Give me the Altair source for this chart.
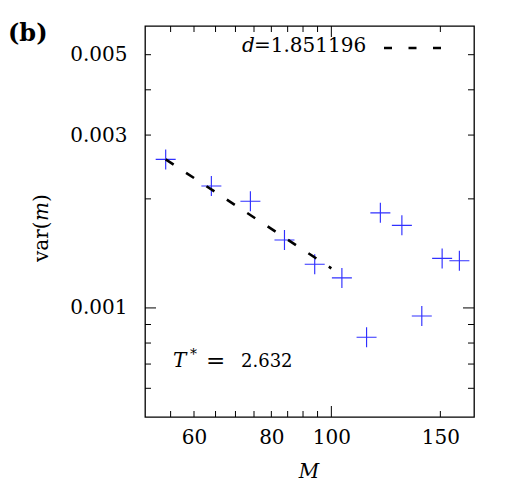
import altair as alt
import pandas as pd

# ---- data ----
M = [54, 64, 74, 84, 94, 104, 114, 120, 130, 140, 151, 161]
VAR = [0.00257, 0.00217, 0.00197, 0.00154, 0.00132, 0.00121,
       0.00083, 0.00183, 0.00169, 0.00095, 0.00137, 0.00135]
FIT_M = [54, 100]
FIT_VAR = [0.00257, 0.001286]
X_TICK_LABELS = [60, 80, 100, 150]
Y_TICK_LABELS = [0.001, 0.003, 0.005]
X_MINOR = [55, 60, 65, 70, 75, 80, 85, 90, 95, 150]
X_MAJOR = [100]
Y_MINOR = [0.0006, 0.0007, 0.0008, 0.0009, 0.002, 0.003, 0.004, 0.005]
Y_MAJOR = [0.001]
X_DOMAIN = [50, 170]
Y_DOMAIN = [0.0005, 0.006]
LEGEND_TEXT = "=1.851196"
T_VALUE = "2.632"

W, H = 329, 391
FONT = "DejaVu Serif"
FS = 20

xs = alt.Scale(type="log", domain=X_DOMAIN, nice=False)
ys = alt.Scale(type="log", domain=Y_DOMAIN, nice=False)

df = pd.DataFrame({"M": M, "var": VAR})
fit = pd.DataFrame({"M": FIT_M, "var": FIT_VAR})

axis_common = dict(ticks=False, tickSize=0, domain=False, grid=False,
                   labelFont=FONT, labelFontSize=FS, labelColor="black",
                   labelOverlap=False, labelFlush=False, title=None)
AX_X = alt.Axis(values=X_TICK_LABELS, format="d", labelPadding=10, **axis_common)
AX_Y = alt.Axis(values=Y_TICK_LABELS, format=".3f", labelPadding=18, **axis_common)


def X(f="M:Q"):
    return alt.X(f, scale=xs, axis=AX_X)


def Y(f="var:Q"):
    return alt.Y(f, scale=ys, axis=AX_Y)


pts = alt.Chart(df).mark_point(
    shape="M-1,0L1,0M0,-1L0,1", size=400, filled=False,
    color="#3030ff", strokeWidth=1.15, opacity=1
).encode(x=X(), y=Y())

fit_line = alt.Chart(fit).mark_line(
    color="black", strokeWidth=2.6, strokeDash=[9.5, 14.9]
).encode(x=X(), y=Y())


def xticks(vals, length, top):
    d = pd.DataFrame({"M": vals})
    if top:
        yy, yy2 = alt.value(0), alt.value(length)
    else:
        yy, yy2 = alt.value(H), alt.value(H - length)
    return alt.Chart(d).mark_rule(color="black", strokeWidth=1).encode(
        x=X(), y=yy, y2=yy2)


def yticks(vals, length, right):
    d = pd.DataFrame({"var": vals})
    if right:
        xx, xx2 = alt.value(W), alt.value(W - length)
    else:
        xx, xx2 = alt.value(0), alt.value(length)
    return alt.Chart(d).mark_rule(color="black", strokeWidth=1).encode(
        y=Y(), x=xx, x2=xx2)


ticks = [
    xticks(X_MINOR, 6, False), xticks(X_MINOR, 6, True),
    xticks(X_MAJOR, 11, False), xticks(X_MAJOR, 11, True),
    yticks(Y_MINOR, 6, False), yticks(Y_MINOR, 6, True),
    yticks(Y_MAJOR, 11, False), yticks(Y_MAJOR, 11, True),
]

one = pd.DataFrame({"a": [0]})


def txt(text, x, y, size=FS, style="normal", weight="normal", angle=0,
        align="left", baseline="alphabetic"):
    kw = dict(text=text, font=FONT, fontSize=size, fontStyle=style,
              fontWeight=weight, align=align, baseline=baseline, color="black")
    if angle:
        kw["angle"] = angle
    return alt.Chart(one).mark_text(**kw).encode(x=alt.value(x), y=alt.value(y))


ox, oy = 145, 26  # plot origin in page pixels
texts = [
    txt("(b)", 8 - ox, 41 - oy, size=24, weight="bold"),
    txt("M", 309 - ox, 478 - oy, style="italic", align="center"),
    txt("var(", 48 - ox, 262 - oy, angle=270),
    txt("m", 48 - ox, 221 - oy, style="italic", angle=270),
    txt(")", 48 - ox, 202 - oy, angle=270),
    txt("d", 242 - ox, 52 - oy, style="italic"),
    txt(LEGEND_TEXT, 254 - ox, 52 - oy),
    txt("T", 173 - ox, 367 - oy, style="italic"),
    txt("*", 190 - ox, 359 - oy, size=14),
    txt("=", 206 - ox, 368 - oy, size=23),
    txt(T_VALUE, 241 - ox, 367 - oy, size=18),
]

legend_line = alt.Chart(one).mark_rule(
    color="black", strokeWidth=2.6, strokeDash=[8, 16.5]
).encode(x=alt.value(384 - ox), x2=alt.value(442 - ox), y=alt.value(48 - oy))

chart = alt.layer(pts, fit_line, legend_line, *ticks, *texts).properties(
    width=W, height=H,
    autosize=alt.AutoSizeParams(type="none"),
    padding={"left": ox, "top": oy, "right": 514 - ox - W, "bottom": 488 - oy - H},
    background="white",
).configure_view(stroke="black", strokeWidth=1.3)

chart.save("out.html", embed_options={"renderer": "svg", "actions": False})
